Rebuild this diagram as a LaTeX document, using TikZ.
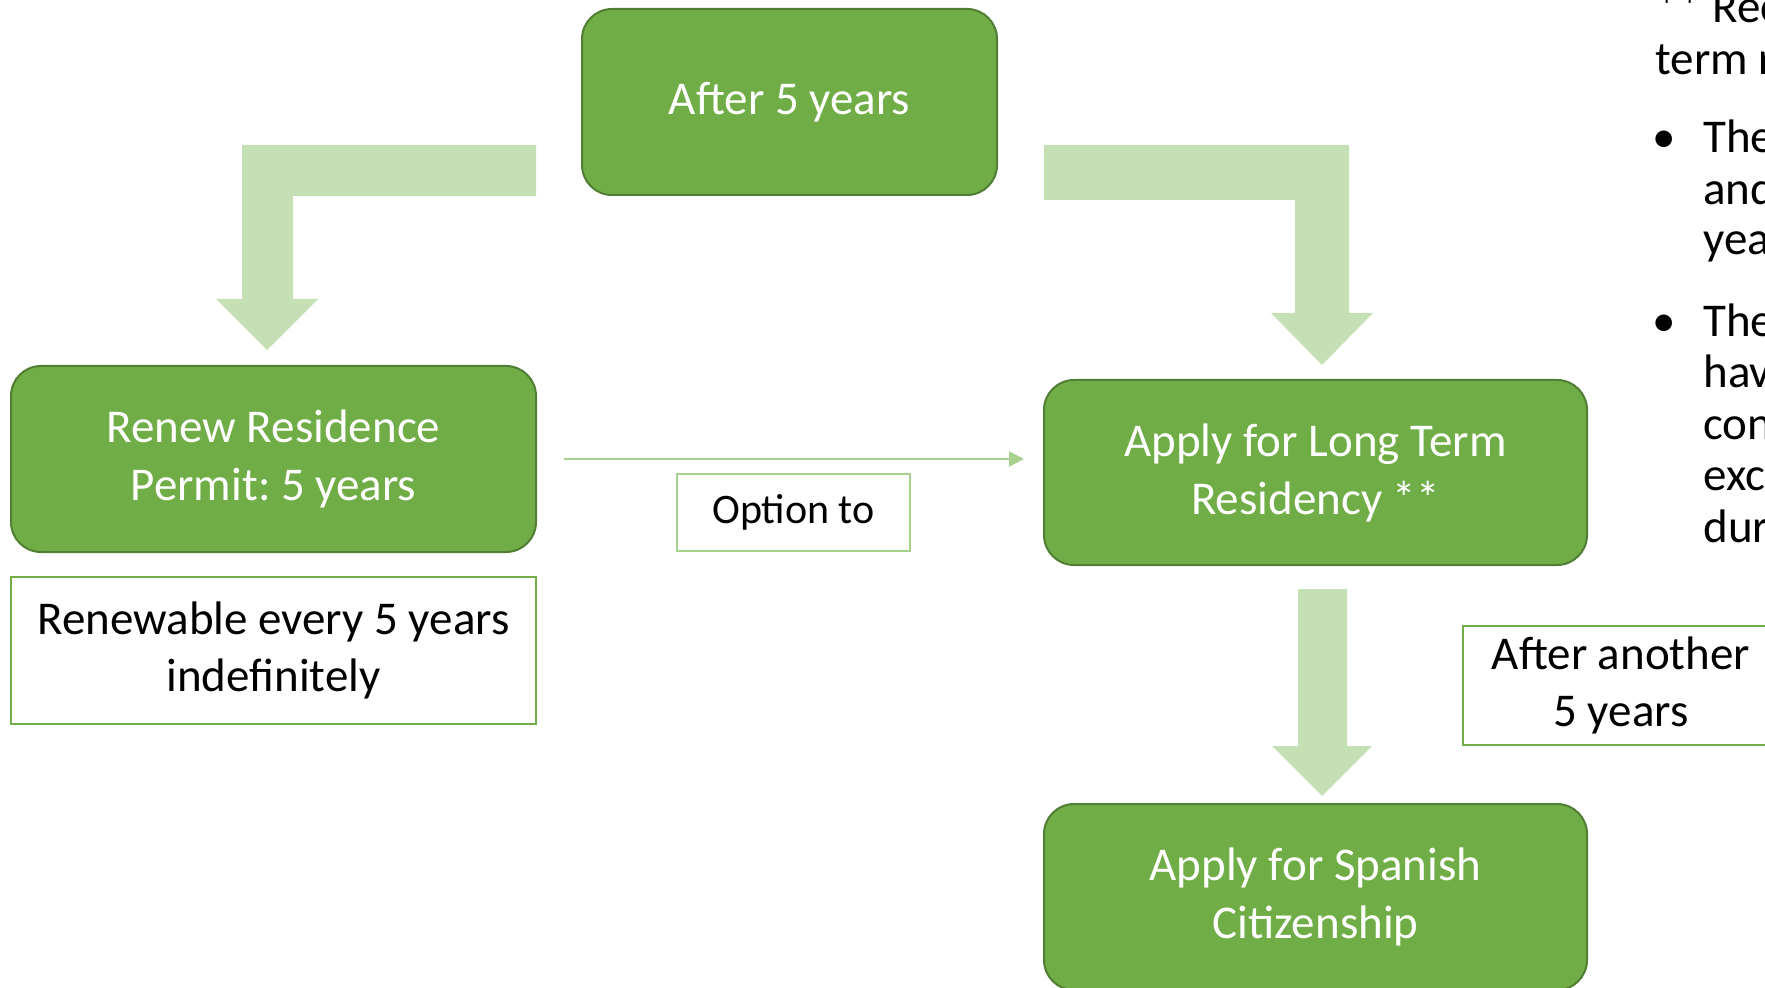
\documentclass[tikz,border=0pt]{standalone}
\usepackage{fontspec}
\setmainfont{Carlito}
\frenchspacing
\usepackage{tikz}
\usetikzlibrary{arrows.meta,positioning,calc}

\definecolor{BoxGreen}{HTML}{70AD47}
\definecolor{BoxEdge}{HTML}{507E32}
\definecolor{PaleGreen}{HTML}{C5E0B4}
\definecolor{LineGreen}{HTML}{A9D18E}

\tikzset{
  greenbox/.style={draw=BoxEdge, line width=1pt, fill=BoxGreen, rounded corners=15pt,
    text=white, align=center, font=\fontsize{23.5}{29}\selectfont,
    minimum height=93pt, inner sep=0pt},
  notebox/.style={draw=BoxGreen, line width=1.2pt, fill=white, align=center,
    font=\fontsize{23.5}{28.5}\selectfont, inner sep=0pt},
  blockarrow/.style={fill=PaleGreen},
  optline/.style={draw=LineGreen, line width=1.3pt, -{Triangle[length=7.5pt,width=7.5pt]}},
  sidetext/.style={font=\fontsize{23.5}{25.5}\selectfont, inner sep=0pt, anchor=base west}
}

\begin{document}
\begin{tikzpicture}[x=0.5pt,y=-0.5pt]
\useasboundingbox (0,0) rectangle (1765,988);

% block arrows
\fill[blockarrow] (536,145) -- (242,145) -- (242,299) -- (216,299) -- (267,350)
  -- (318,299) -- (293,299) -- (293,196) -- (536,196) -- cycle;
\fill[blockarrow] (1044,145) -- (1349,145) -- (1349,313) -- (1373,313) -- (1322,365)
  -- (1271,313) -- (1295,313) -- (1295,200) -- (1044,200) -- cycle;
\fill[blockarrow] (1298,589) -- (1347,589) -- (1347,746) -- (1372,746) -- (1322,796)
  -- (1272,746) -- (1298,746) -- cycle;

% green steps
\node[greenbox, minimum width=207.5pt] (after) at (789.5,102) {After 5 years};
\node[greenbox, minimum width=262.5pt] (renew) at (273.5,459) {Renew Residence\\Permit: 5 years};
\node[greenbox, minimum width=271.5pt, minimum height=92.5pt] (long) at (1315.5,472.5) {Apply for Long Term\\Residency **};
\node[greenbox, minimum width=271.5pt] (spanish) at (1315.5,897) {Apply for Spanish\\Citizenship};

% notes
\node[notebox, minimum width=262.5pt, minimum height=73.5pt] (renewable) at (273.5,650.5) {Renewable every 5 years\\indefinitely};
\node[notebox, draw=LineGreen, minimum width=116.5pt, minimum height=38.5pt,
  font=\fontsize{21}{25}\selectfont] (option) at (793.5,512.5) {Option to};
\node[notebox, minimum width=158pt, minimum height=59.5pt] (another) at (1621,685.5) {After another\\5 years};

\draw[optline, shorten <=13.5pt, shorten >=9.5pt] (renew.east) -- (renew.east -| long.west);

% side note, cut at the edge
\foreach \y/\x/\t in {23/1655/** Rec, 75/1655/term r, 153/1703/The, 205/1703/and,
  255/1703/yea, 337/1703/The, 388/1703/hav, 440/1703/con, 490/1703/exc, 542/1703/dur}
  \node[sidetext] (line\y) at (\x,\y) {\t};
\node[sidetext] (bulletA) at (1652,153) {\textbullet};
\node[sidetext] (bulletB) at (1652,337) {\textbullet};
\end{tikzpicture}
\end{document}
